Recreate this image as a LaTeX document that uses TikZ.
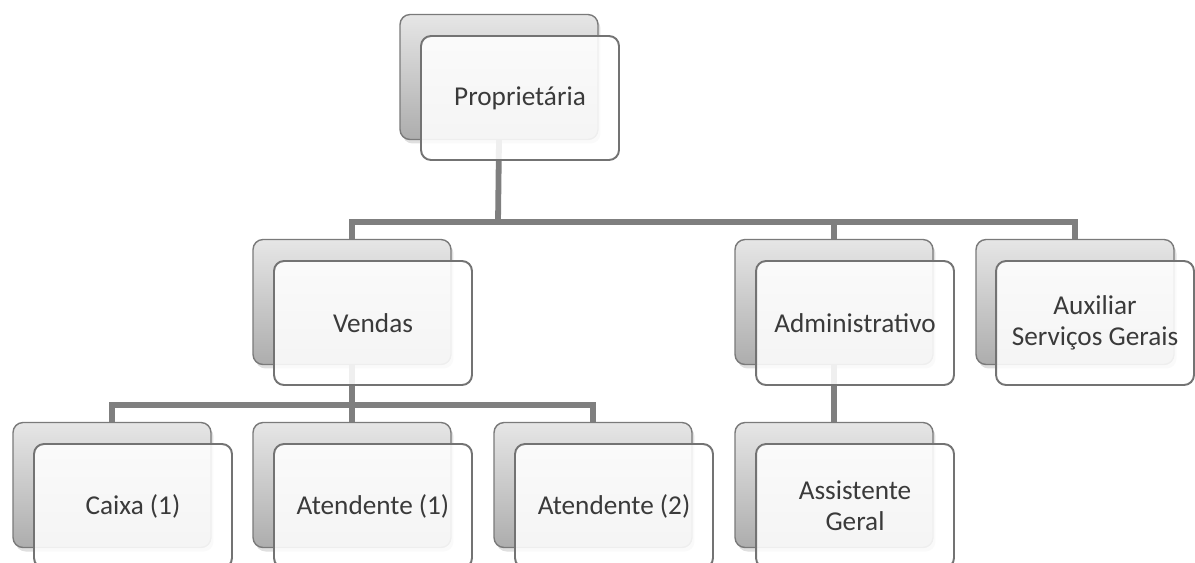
\documentclass[tikz,border=0pt]{standalone}
\usepackage{fontspec}
\setmainfont{Carlito}
\usetikzlibrary{shadows}
\definecolor{linegray}{HTML}{7F7F7F}
\definecolor{backtop}{HTML}{E6E6E6}
\definecolor{backbot}{HTML}{ADADAD}
\definecolor{backedge}{HTML}{7A7A7A}
\definecolor{frontedge}{HTML}{737373}
\definecolor{textgray}{HTML}{3A3A3A}

\begin{document}
\begin{tikzpicture}[x=0.02cm, y=-0.02cm,
    back/.style={draw=backedge, line width=0.8pt, rounded corners=0.2cm,
      top color=backtop, bottom color=backbot,
      minimum width=3.96cm, minimum height=2.5cm, inner sep=0pt,
      drop shadow={opacity=0.25, shadow xshift=0.05cm, shadow yshift=-0.08cm}},
    front/.style={draw=frontedge, line width=1.1pt, rounded corners=0.2cm,
      fill=white, fill opacity=0.88, text opacity=1, text=textgray,
      minimum width=3.96cm, minimum height=2.48cm, inner sep=0pt,
      align=center, font=\fontsize{15.5}{17.5}\selectfont},
    link/.style={draw=linegray, line width=3.3pt}]
    \useasboundingbox (0,0) rectangle (1195,562);
    \clip (0,0) rectangle (1195,562);
    % back boxes
    \node[back] (propb) at (499,77) {};
    \node[back] (vendb) at (352,302) {};
    \node[back] (admb) at (834,302) {};
    \node[back] (auxb) at (1075,302) {};
    \node[back] (caixb) at (112,485) {};
    \node[back] (aten1b) at (352,485) {};
    \node[back] (aten2b) at (593,485) {};
    \node[back] (assb) at (834,485) {};
    % connectors
    \coordinate (j1) at (498,222);
    \coordinate (j2) at (352,405);
    \draw[link] (propb.south) -- (j1);
    \draw[link] (j1) -| (vendb.north);
    \draw[link] (j1) -| (admb.north);
    \draw[link] (j1) -| (auxb.north);
    \draw[link] (vendb.south) -- (j2);
    \draw[link] (j2) -| (caixb.north);
    \draw[link] (j2) -- (aten1b.north);
    \draw[link] (j2) -| (aten2b.north);
    \draw[link] (admb.south) -- (assb.north);
    % front boxes
    \node[front] (prop) at (520,98) {Proprietária};
    \node[front] (vend) at (373,323) {Vendas};
    \node[front] (adm) at (855,323) {Administrativo};
    \node[front] (aux) at (1095,323) {Auxiliar\\Serviços Gerais};
    \node[front] (caix) at (133,506) {Caixa (1)};
    \node[front] (aten1) at (373,506) {Atendente (1)};
    \node[front] (aten2) at (614,506) {Atendente (2)};
    \node[front] (ass) at (855,506) {Assistente\\Geral};
  \end{tikzpicture}
\end{document}
